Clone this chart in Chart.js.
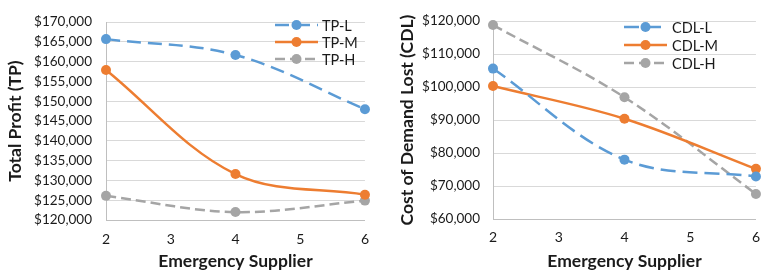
<!DOCTYPE html>
<html>
<head>
<meta charset="utf-8">
<script src="https://cdn.jsdelivr.net/npm/chart.js@4.4.1/dist/chart.umd.min.js"></script>
<style>
  html, body { margin: 0; padding: 0; background: #fff; }
  body { width: 761px; height: 272px; overflow: hidden; position: relative; }
  #tp { position: absolute; left: 0; top: 0; }
  #cdl { position: absolute; left: 380px; top: 0; }
</style>
</head>
<body>
<canvas id="tp" width="380" height="272"></canvas>
<canvas id="cdl" width="390" height="272"></canvas>
<script>
const suppliers = [2, 4, 6];
const xTicks = [2, 3, 4, 5, 6];

const tpL = [165700, 161700, 148000];
const tpM = [157900, 131600, 126400];
const tpH = [126100, 122000, 124900];
const tpLabels = ['TP-L', 'TP-M', 'TP-H'];

const cdlL = [105600, 78000, 72900];
const cdlM = [100300, 90400, 75200];
const cdlH = [118800, 96900, 67600];
const cdlLabels = ['CDL-L', 'CDL-M', 'CDL-H'];

const blue = '#5B9BD5';
const orange = '#ED7D31';
const gray = '#A5A5A5';
const font = 'Lato';

const points = (vals) => suppliers.map((x, i) => ({ x: x, y: vals[i] }));

const makeSet = (label, vals, color, dash) => ({
  label: label,
  data: points(vals),
  borderColor: color,
  backgroundColor: color,
  borderWidth: 2.5,
  borderDash: dash,
  pointRadius: 5,
  pointBorderWidth: 0,
  pointBackgroundColor: color,
  tension: 0.35,
  clip: false
});

// legend sits inside the plot like the excel one, so draw it by hand
const insideLegend = {
  id: 'insideLegend',
  afterDatasetsDraw(chart, args, opts) {
    const ctx = chart.ctx;
    chart.data.datasets.forEach((ds, i) => {
      const y = opts.top + i * opts.step;
      ctx.save();
      ctx.strokeStyle = ds.borderColor;
      ctx.lineWidth = ds.borderWidth;
      ctx.setLineDash(ds.borderDash || []);
      ctx.beginPath();
      ctx.moveTo(opts.x0, y);
      ctx.lineTo(opts.x1, y);
      ctx.stroke();
      ctx.setLineDash([]);
      ctx.fillStyle = ds.borderColor;
      ctx.beginPath();
      ctx.arc((opts.x0 + opts.x1) / 2, y, 5, 0, Math.PI * 2);
      ctx.fill();
      ctx.fillStyle = '#1a1a1a';
      ctx.font = '14.5px ' + font;
      ctx.textBaseline = 'middle';
      ctx.fillText(ds.label, opts.textX, y + 1);
      ctx.restore();
    });
  }
};

const money = (v) => '$' + v.toLocaleString('en-US');

function makeChart(id, sets, yMin, yMax, yStep, yTitle, box) {
  const ctx = document.getElementById(id).getContext('2d');
  return new Chart(ctx, {
    type: 'line',
    data: { datasets: sets },
    plugins: [insideLegend],
    options: {
      responsive: false,
      animation: false,
      devicePixelRatio: 1,
      layout: { padding: { top: box.top, right: box.right, bottom: 0, left: 0 } },
      plugins: {
        legend: { display: false },
        tooltip: { enabled: false },
        insideLegend: box.legend
      },
      scales: {
        x: {
          type: 'linear',
          min: xTicks[0],
          max: xTicks[xTicks.length - 1],
          afterBuildTicks: (scale) => { scale.ticks = xTicks.map(v => ({ value: v })); },
          afterFit: (scale) => { scale.height = box.xHeight; },
          grid: { display: false, drawTicks: false },
          border: { display: true, color: '#bfbfbf', width: 1 },
          ticks: { padding: box.xPad, color: '#1a1a1a', font: { family: font, size: 14 } },
          title: {
            display: true,
            text: 'Emergency Supplier',
            color: '#1a1a1a',
            font: { family: font, size: 17.5, weight: 'bold' },
            padding: { top: 0, bottom: 0 }
          }
        },
        y: {
          min: yMin,
          max: yMax,
          afterFit: (scale) => { scale.width = box.yWidth; },
          grid: { color: '#d9d9d9', lineWidth: 1, drawTicks: false },
          border: { display: true, color: '#bfbfbf', width: 1 },
          ticks: {
            stepSize: yStep,
            padding: box.yPad,
            color: '#1a1a1a',
            font: { family: font, size: 13.5 },
            callback: (v) => money(v)
          },
          title: {
            display: true,
            text: yTitle,
            color: '#1a1a1a',
            font: { family: font, size: 17.5, weight: 'bold' },
            padding: { top: box.titlePad, bottom: 0 }
          }
        }
      }
    }
  });
}

makeChart('tp', [
  makeSet(tpLabels[0], tpL, blue, [14, 7]),
  makeSet(tpLabels[1], tpM, orange, []),
  makeSet(tpLabels[2], tpH, gray, [10, 5])
], 120000, 170000, 5000, 'Total Profit (TP)', {
  top: 17, right: 8, xHeight: 52, yWidth: 106, xPad: 11, yPad: 14, titlePad: 5,
  legend: { x0: 275, x1: 318, textX: 322, top: 25, step: 17 }
});

makeChart('cdl', [
  makeSet(cdlLabels[0], cdlL, blue, [15, 7]),
  makeSet(cdlLabels[1], cdlM, orange, []),
  makeSet(cdlLabels[2], cdlH, gray, [10, 5])
], 60000, 120000, 10000, 'Cost of Demand Lost (CDL)', {
  top: 18, right: 13, xHeight: 53, yWidth: 113, xPad: 10, yPad: 13, titlePad: 17,
  legend: { x0: 244, x1: 287, textX: 292, top: 27, step: 18 }
});
</script>
</body>
</html>
